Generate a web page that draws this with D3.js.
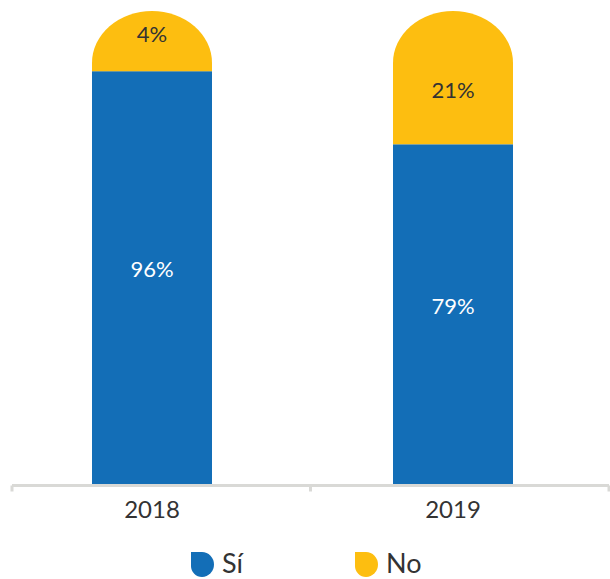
<!DOCTYPE html>
<html>
<head>
<meta charset="utf-8">
<script src="https://cdn.jsdelivr.net/npm/d3@7"></script>
<style>
  body { margin: 0; background: #fff; }
  svg { display: block; font-family: Lato, 'Open Sans', sans-serif; }
</style>
</head>
<body>
<div id="chart"></div>
<script>
const years = ['2018', '2019'];
const si = [96, 79];
const no = [4, 21];
const seriesNames = ['Sí', 'No'];
const colors = ['#136eb7', '#fdbe10'];

const W = 610, H = 579;
const barW = 120;
const capExtra = 43;   // the rounded cap rises above the 100% line
const capRy = 52;

const svg = d3.select('#chart').append('svg')
    .attr('width', W)
    .attr('height', H);

const x = d3.scalePoint().domain(years).range([152, 453]);
const xAxisBand = d3.scaleBand().domain(years).range([12, 609]);
const y = d3.scaleLinear().domain([0, 100]).range([484, 54]);

// stacked data
const stack = years.map(function(yr, i) {
    return [
        {year: yr, key: seriesNames[0], y0: 0, y1: si[i], v: si[i]},
        {year: yr, key: seriesNames[1], y0: si[i], y1: si[i] + no[i], v: no[i]}
    ];
});

function capPath(d) {
    let x0 = x(d.year) - barW / 2, x1 = x(d.year) + barW / 2;
    let yb = y(d.y0), yt = y(d.y1) - capExtra;
    let rx = barW / 2, ry = Math.min(capRy, yb - yt);
    return 'M' + x0 + ',' + yb +
        'L' + x0 + ',' + (yt + ry) +
        'A' + rx + ',' + ry + ' 0 0 1 ' + (x0 + rx) + ',' + yt +
        'A' + rx + ',' + ry + ' 0 0 1 ' + x1 + ',' + (yt + ry) +
        'L' + x1 + ',' + yb + 'Z';
}

const g = svg.append('g');

stack.forEach(function(s) {
    let blue = s[0], yel = s[1];
    g.append('rect')
        .attr('x', x(blue.year) - barW / 2)
        .attr('y', y(blue.y1))
        .attr('width', barW)
        .attr('height', y(blue.y0) - y(blue.y1))
        .attr('fill', colors[0]);
    g.append('path')
        .attr('d', capPath(yel))
        .attr('fill', colors[1]);

    g.append('text')
        .attr('x', x(blue.year))
        .attr('y', y((blue.y0 + blue.y1) / 2) - 8)
        .attr('dy', '0.35em')
        .attr('text-anchor', 'middle')
        .attr('fill', '#fff')
        .attr('font-size', 22)
        .text(blue.v + '%');

    let yb = y(yel.y0), yt = y(yel.y1) - capExtra;
    let ly = (yb - y(yel.y1)) < 30 ? (yt + yb) / 2 - 7 : y((yel.y0 + yel.y1) / 2) - 9;
    g.append('text')
        .attr('x', x(yel.year))
        .attr('y', ly)
        .attr('dy', '0.35em')
        .attr('text-anchor', 'middle')
        .attr('fill', '#333')
        .attr('font-size', 22)
        .text(yel.v + '%');
});

// axis
const axisY = 485.5;
const axisColor = '#d9d9d6';
svg.append('line')
    .attr('x1', xAxisBand.range()[0]).attr('x2', xAxisBand.range()[1])
    .attr('y1', axisY).attr('y2', axisY)
    .attr('stroke', axisColor).attr('stroke-width', 3);

const bounds = years.map(function(d) { return xAxisBand(d); }).concat([xAxisBand.range()[1]]);
svg.selectAll('.tick')
    .data(bounds)
    .enter().append('line')
    .attr('class', 'tick')
    .attr('x1', function(d) { return d; }).attr('x2', function(d) { return d; })
    .attr('y1', axisY).attr('y2', axisY + 6)
    .attr('stroke', axisColor).attr('stroke-width', 3);

svg.selectAll('.year')
    .data(years)
    .enter().append('text')
    .attr('class', 'year')
    .attr('x', function(d) { return x(d); })
    .attr('y', 518)
    .attr('text-anchor', 'middle')
    .attr('fill', '#333')
    .attr('font-size', 24)
    .text(function(d) { return d; });

// legend
const legendX = d3.scalePoint().domain(seriesNames).range([191, 355]);
const leg = svg.selectAll('.legend')
    .data(seriesNames)
    .enter().append('g')
    .attr('class', 'legend')
    .attr('transform', function(d) { return 'translate(' + legendX(d) + ',552)'; });

leg.append('path')
    .attr('d', 'M0,0H11A12,12.5 0 0 1 23,12.5A12,12.5 0 0 1 11,25A11,11 0 0 1 0,14Z')
    .attr('fill', function(d, i) { return colors[i]; });

leg.append('text')
    .attr('x', 31)
    .attr('y', 21)
    .attr('fill', '#333')
    .attr('font-size', 27)
    .text(function(d) { return d; });
</script>
</body>
</html>
